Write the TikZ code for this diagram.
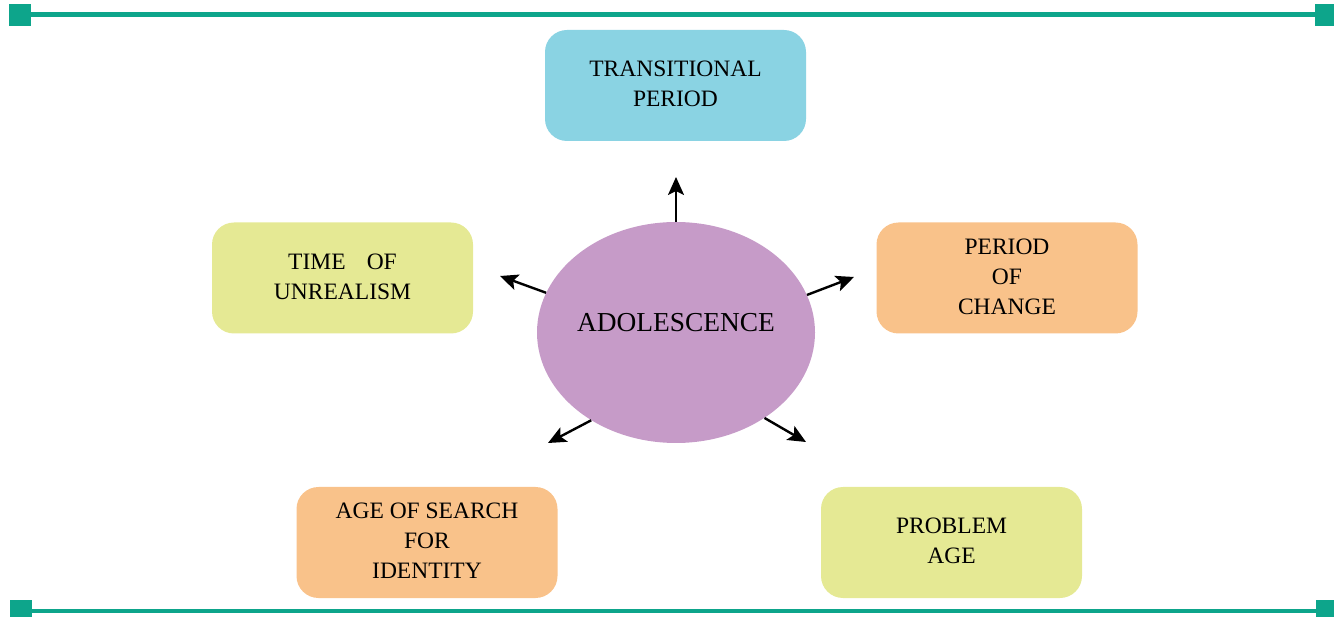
\documentclass[tikz,border=0pt]{standalone}
\usepackage{fontspec}
\setmainfont{Liberation Serif}
\usetikzlibrary{arrows.meta,shapes.geometric}
\definecolor{teal}{HTML}{0DA58B}
\definecolor{cblue}{HTML}{8AD3E3}
\definecolor{cyel}{HTML}{E5E994}
\definecolor{corange}{HTML}{F9C28A}
\definecolor{cpurple}{HTML}{C69BC8}
\tikzset{
  box/.style={rounded corners=22pt, minimum width=261pt, minimum height=111pt, inner sep=0pt,
    align=center, font=\fontsize{23.5pt}{30pt}\selectfont, text=black},
  bar/.style={draw=teal, line width=4.5pt},
  endsq/.style={fill=teal, draw=none},
  arr/.style={line width=2.4pt, -{Stealth[length=18pt,width=16pt,inset=4pt]}}
}
\begin{document}
\begin{tikzpicture}[x=1pt,y=-1pt]
\useasboundingbox (0,0) rectangle (1334,617);
% frame bars
\draw[bar] (20,14.5) -- (1325,14.5);
\draw[bar] (20,611) -- (1325,611);
\fill[endsq] (9,4) rectangle (31,26);
\fill[endsq] (1315,4) rectangle (1337,26);
\fill[endsq] (10,600) rectangle (32,622);
\fill[endsq] (1316,600) rectangle (1338,622);
% centre
\node[ellipse, fill=cpurple, minimum width=278pt, minimum height=221pt, inner sep=0pt] (ell) at (676,332.5) {};
\node[font=\fontsize{27.4pt}{30pt}\selectfont, text=black] (adol) at (676,323) {ADOLESCENCE};
% boxes
\node[box, fill=cblue] (trans) at (675.5,85.5) {TRANSITIONAL\\PERIOD\rule{0pt}{0pt}\vspace{3pt}};
\node[box, fill=cyel] (time) at (342.5,278) {TIME\hspace{0.9em}OF\\UNREALISM\vspace{3pt}};
\node[box, fill=corange] (change) at (1007,278) {PERIOD\\OF\\CHANGE\vspace{3pt}};
\node[box, fill=corange] (search) at (427,542.5) {AGE OF SEARCH\\FOR\\IDENTITY\vspace{3pt}};
\node[box, fill=cyel] (problem) at (951.5,542.5) {PROBLEM\\AGE\vspace{3pt}};
% arrow ends
\coordinate (eT) at (676,177);
\coordinate (eL) at (500,276);
\coordinate (eR) at (854,277);
\coordinate (eDL) at (548,443);
\coordinate (eDR) at (806,442);
\draw[arr] (ell.90) -- (eT);
\draw[arr] (ell.163.4) -- (eL);
\draw[arr] (ell.16.7) -- (eR);
\draw[arr] (ell.226) -- (eDL);
\draw[arr] (ell.316) -- (eDR);
\end{tikzpicture}
\end{document}
